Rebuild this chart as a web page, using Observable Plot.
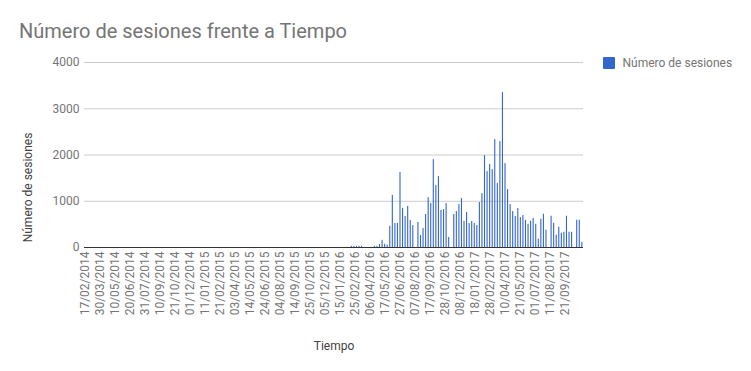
<!DOCTYPE html>
<html>
<head>
<meta charset="utf-8">
<script src="https://cdn.jsdelivr.net/npm/d3@7"></script>
<script src="https://cdn.jsdelivr.net/npm/@observablehq/plot@0.6"></script>
<style>
  body { margin: 0; background: #fff; font-family: Roboto, "Noto Sans", sans-serif; }
  #wrap { position: relative; width: 751px; height: 371px; overflow: hidden; background: #fff; }
  #title { position: absolute; left: 19px; top: 20.5px; font-size: 20px; line-height: 20px; color: #757575; white-space: nowrap; }
  #legend { position: absolute; left: 603px; top: 57px; height: 12px; display: flex; align-items: center; white-space: nowrap; }
  #legend .sw { width: 12px; height: 12px; background: #3366cc; border-radius: 1px; margin-right: 7.5px; }
  #legend .lb { font-size: 12px; line-height: 12px; color: #757575; }
  #chart { position: absolute; left: 0; top: 0; }
</style>
</head>
<body>
<div id="wrap">
  <div id="chart"></div>
  <div id="title"></div>
  <div id="legend"><div class="sw"></div><div class="lb"></div></div>
</div>
<script>
// ---- data ----
const chartTitle = "Número de sesiones frente a Tiempo";
const seriesName = "Número de sesiones";
const xTitle = "Tiempo";
const yTitle = "Número de sesiones";

// first week of the series (weekly values, Mondays)
const firstWeek = "2016-02-15";
const sessions = [
  25, 25, 25, 25, 25, 0, 0, 0, 0, 25,
  25, 65, 155, 70, 50, 458, 1127, 520, 520, 1623,
  845, 673, 888, 583, 475, 0, 540, 259, 410, 713,
  1080, 950, 1900, 1339, 1533, 800, 820, 950, 216, 0,
  713, 778, 929, 1058, 562, 756, 518, 562, 518, 475,
  972, 1166, 1987, 1641, 1793, 1685, 2333, 1382, 2290, 3348,
  1814, 1253, 929, 778, 670, 842, 648, 691, 585, 500,
  568, 626, 503, 180, 611, 719, 374, 0, 676, 525,
  266, 438, 309, 330, 676, 330, 330, 0, 590, 590,
  110
];

const tickLabels = [
  "17/02/2014", "30/03/2014", "10/05/2014", "20/06/2014", "31/07/2014", "10/09/2014",
  "21/10/2014", "01/12/2014", "11/01/2015", "21/02/2015", "03/04/2015", "14/05/2015",
  "24/06/2015", "04/08/2015", "14/09/2015", "25/10/2015", "05/12/2015", "15/01/2016",
  "25/02/2016", "06/04/2016", "17/05/2016", "27/06/2016", "07/08/2016", "17/09/2016",
  "28/10/2016", "08/12/2016", "18/01/2017", "28/02/2017", "10/04/2017", "21/05/2017",
  "01/07/2017", "11/08/2017", "21/09/2017"
];
const yTicks = [0, 1000, 2000, 3000, 4000];

// ---- build ----
document.getElementById("title").textContent = chartTitle;
document.querySelector("#legend .lb").textContent = seriesName;

const parseLabel = d3.utcParse("%d/%m/%Y");
const tickDates = tickLabels.map(parseLabel);
const labelOf = new Map(tickDates.map((d, i) => [+d, tickLabels[i]]));

const start = new Date(firstWeek + "T00:00Z");
const rows = sessions.map((v, i) => {
  const date = d3.utcDay.offset(start, 7 * i);
  return { date, x1: d3.utcHour.offset(date, -36), x2: d3.utcHour.offset(date, 36), value: v };
}).filter(r => r.value > 0);

const plot = Plot.plot({
  width: 751,
  height: 371,
  marginLeft: 84,
  marginRight: 168,
  marginTop: 62,
  marginBottom: 124,
  style: { fontFamily: "Roboto, 'Noto Sans', sans-serif", fontSize: "12px", background: "transparent" },
  x: { type: "utc", domain: [new Date("2014-02-14T06:30Z"), new Date("2017-11-09T05:00Z")] },
  y: { domain: [0, 4000] },
  marks: [
    Plot.gridY(yTicks.filter(d => d > 0), { stroke: "#cccccc", strokeOpacity: 1 }),
    Plot.rectY(rows, { x1: "x1", x2: "x2", y: "value", fill: "#3366cc" }),
    Plot.ruleY([0], { stroke: "#333333", strokeWidth: 1 }),
    Plot.axisY(yTicks, { tickSize: 0, tickPadding: 5, color: "#757575", fontSize: 12, label: null, tickFormat: d => String(d) }),
    Plot.axisX(tickDates, {
      tickSize: 0, tickPadding: 4, tickRotate: -90, color: "#757575", fontSize: 12, label: null,
      tickFormat: d => labelOf.get(+d)
    }),
    Plot.text([xTitle], { frameAnchor: "bottom", dy: 102.3, lineAnchor: "bottom", textAnchor: "middle", fill: "#424242", fontSize: 12 }),
    Plot.text([yTitle], { frameAnchor: "left", rotate: -90, dx: -52.5, dy: 32.5, lineAnchor: "bottom", textAnchor: "middle", fill: "#424242", fontSize: 12 })
  ]
});
document.getElementById("chart").appendChild(plot);
</script>
</body>
</html>
